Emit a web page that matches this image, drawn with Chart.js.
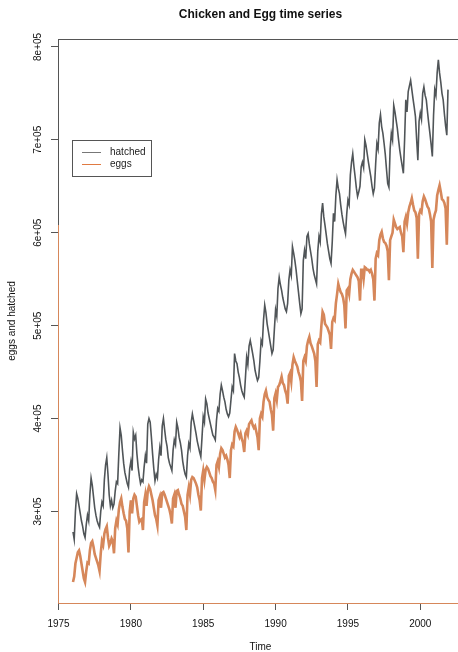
<!DOCTYPE html>
<html lang="en">
<head>
<meta charset="UTF-8">
<title>Chicken and Egg time series</title>
<script src="https://cdn.jsdelivr.net/npm/chart.js"></script>
<style>
  html, body { margin: 0; padding: 0; background: #fff; overflow: hidden; }
  #wrap { width: 458px; height: 652px; overflow: hidden; }
  canvas { display: block; }
</style>
</head>
<body>
<div id="wrap"><canvas id="chart" width="470" height="652"></canvas></div>
<script>
// monthly series, Jan 1976 .. Dec 2001 (values in thousands)
const startYear = 1976;
const hatched = [
  278, 270, 300, 319, 314, 306, 298, 290, 284, 276, 272, 286, // 1976
  296, 290, 318, 336, 328, 316, 304, 296, 290, 286, 283, 300, // 1977
  310, 306, 334, 350, 358, 340, 318, 306, 312, 304, 308, 322, // 1978
  332, 330, 362, 390, 382, 366, 352, 342, 336, 330, 326, 346, // 1979
  354, 344, 385, 378, 382, 362, 348, 338, 330, 334, 332, 348, // 1980
  360, 352, 394, 400, 396, 380, 362, 346, 333, 340, 336, 356, // 1981
  369, 360, 392, 400, 388, 377, 370, 358, 352, 348, 344, 366, // 1982
  377, 372, 396, 390, 380, 374, 366, 354, 346, 340, 337, 360, // 1983
  373, 368, 396, 405, 398, 391, 384, 376, 370, 364, 359, 380, // 1984
  402, 396, 421, 416, 406, 400, 394, 388, 382, 380, 377, 398, // 1985
  411, 408, 426, 436, 430, 423, 418, 410, 405, 402, 406, 420, // 1986
  434, 430, 470, 462, 459, 450, 444, 436, 430, 426, 423, 444, // 1987
  466, 458, 478, 484, 477, 470, 462, 452, 446, 441, 444, 462, // 1988
  484, 480, 506, 522, 514, 502, 494, 486, 478, 470, 474, 496, // 1989
  517, 510, 540, 552, 544, 538, 530, 524, 518, 515, 524, 549, // 1990
  560, 554, 585, 578, 570, 560, 548, 536, 524, 513, 518, 570, // 1991
  581, 572, 596, 599, 588, 580, 572, 562, 555, 550, 545, 580, // 1992
  596, 590, 620, 632, 617, 608, 598, 588, 580, 572, 567, 590, // 1993
  621, 612, 640, 657, 648, 642, 630, 620, 612, 605, 599, 620, // 1994
  635, 630, 662, 676, 685, 671, 660, 648, 639, 644, 650, 671, // 1995
  676, 670, 700, 694, 685, 676, 668, 660, 650, 642, 648, 674, // 1996
  696, 690, 718, 727, 714, 707, 696, 684, 668, 653, 649, 690, // 1997
  707, 700, 737, 730, 721, 712, 700, 689, 680, 672, 664, 700, // 1998
  743, 730, 752, 758, 764, 754, 744, 735, 725, 700, 678, 720, // 1999
  729, 722, 750, 757, 748, 743, 730, 718, 707, 695, 682, 726, // 2000
  754, 748, 772, 786, 772, 762, 750, 743, 728, 715, 705, 754  // 2001
];
const eggs = [
  224, 230, 244, 250, 256, 258, 252, 244, 236, 228, 224, 236, // 1976
  245, 244, 258, 266, 268, 262, 254, 250, 246, 242, 236, 255, // 1977
  268, 264, 276, 281, 284, 272, 263, 266, 271, 268, 255, 282, // 1978
  290, 286, 302, 310, 314, 305, 298, 292, 290, 282, 256, 300, // 1979
  312, 298, 314, 318, 316, 306, 296, 289, 291, 292, 280, 310, // 1980
  318, 306, 322, 327, 324, 318, 312, 304, 296, 292, 285, 312, // 1981
  316, 304, 320, 321, 318, 314, 310, 306, 302, 296, 287, 314, // 1982
  318, 304, 322, 323, 318, 314, 308, 306, 300, 294, 280, 318, // 1983
  326, 318, 334, 337, 336, 333, 330, 326, 318, 312, 301, 336, // 1984
  344, 334, 345, 348, 346, 342, 338, 336, 332, 330, 323, 350, // 1985
  354, 348, 362, 368, 366, 362, 358, 360, 356, 350, 336, 366, // 1986
  372, 370, 386, 391, 388, 384, 380, 384, 378, 374, 364, 384, // 1987
  387, 383, 394, 396, 398, 393, 390, 392, 386, 380, 366, 400, // 1988
  405, 402, 418, 426, 430, 423, 420, 418, 410, 404, 387, 422, // 1989
  427, 420, 434, 436, 440, 445, 438, 436, 430, 426, 416, 446, // 1990
  449, 440, 458, 466, 462, 459, 456, 450, 446, 440, 419, 462, // 1991
  466, 462, 478, 484, 488, 481, 478, 474, 470, 462, 434, 480, // 1992
  484, 482, 500, 515, 512, 502, 500, 498, 494, 490, 475, 504, // 1993
  508, 506, 524, 534, 545, 540, 536, 534, 530, 522, 497, 538, // 1994
  540, 534, 550, 556, 560, 558, 556, 554, 552, 548, 527, 560, // 1995
  560, 550, 563, 562, 560, 560, 558, 560, 556, 550, 527, 572, // 1996
  578, 576, 592, 598, 601, 594, 590, 589, 586, 580, 549, 592, // 1997
  596, 600, 614, 610, 606, 604, 605, 606, 600, 596, 579, 612, // 1998
  617, 610, 622, 628, 632, 637, 630, 624, 622, 616, 572, 620, // 1999
  624, 622, 634, 639, 636, 632, 628, 626, 620, 612, 562, 614, // 2000
  620, 624, 640, 646, 651, 644, 636, 635, 632, 626, 587, 639  // 2001
];
const xTicks = [1975, 1980, 1985, 1990, 1995, 2000];
const yTicks = [300, 400, 500, 600, 700, 800];
const yTickLabels = ['3e+05', '4e+05', '5e+05', '6e+05', '7e+05', '8e+05'];

const toPoints = arr => arr.map((v, i) => ({ x: startYear + i / 12, y: v }));
const FONT = "'Liberation Sans', Arial, Helvetica, sans-serif";
const AXIS = '#555';
const ORANGE = '#d6875a';

// title, y labels, legend and the box round the plot
const decor = {
  id: 'decor',
  afterDraw(chart) {
    const { ctx, chartArea: a, scales: { y } } = chart;
    ctx.save();
    ctx.fillStyle = '#111';
    ctx.textAlign = 'center';
    ctx.textBaseline = 'middle';
    ctx.font = 'bold 12px ' + FONT;
    ctx.fillText('Chicken and Egg time series', (a.left + a.right) / 2, 15);
    ctx.font = '10px ' + FONT;
    ctx.fillText('Time', (a.left + a.right) / 2, 647);

    // rotated y tick labels and axis title
    yTicks.forEach((v, i) => {
      ctx.save();
      ctx.translate(38.5, y.getPixelForValue(v));
      ctx.rotate(-Math.PI / 2);
      ctx.fillText(yTickLabels[i], 0, 0);
      ctx.restore();
    });
    ctx.save();
    ctx.translate(12, (a.top + a.bottom) / 2);
    ctx.rotate(-Math.PI / 2);
    ctx.fillText('eggs and hatched', 0, 0);
    ctx.restore();

    // frame
    ctx.lineWidth = 1;
    ctx.strokeStyle = AXIS;
    ctx.strokeRect(a.left + 0.5, a.top + 0.5, a.right - a.left, a.bottom - a.top);
    ctx.strokeStyle = ORANGE;
    ctx.beginPath();
    ctx.moveTo(a.left + 0.5, 225);
    ctx.lineTo(a.left + 0.5, a.bottom + 0.5);
    ctx.lineTo(a.right, a.bottom + 0.5);
    ctx.stroke();

    // legend
    ctx.strokeStyle = AXIS;
    ctx.strokeRect(72.5, 140.5, 79, 36);
    ctx.strokeStyle = '#777';
    ctx.beginPath(); ctx.moveTo(82, 152.5); ctx.lineTo(101, 152.5); ctx.stroke();
    ctx.strokeStyle = '#e07a42';
    ctx.beginPath(); ctx.moveTo(82, 164.5); ctx.lineTo(101, 164.5); ctx.stroke();
    ctx.textAlign = 'left';
    ctx.fillStyle = '#222';
    ctx.fillText('hatched', 110, 152);
    ctx.fillText('eggs', 110, 164);
    ctx.restore();
  }
};

new Chart(document.getElementById('chart'), {
  type: 'line',
  data: {
    datasets: [
      { label: 'hatched', data: toPoints(hatched), borderColor: '#505558', borderWidth: 1.6 },
      { label: 'eggs', data: toPoints(eggs), borderColor: ORANGE, borderWidth: 2.6 },
      { label: 'eggs core', data: toPoints(eggs), borderColor: 'rgba(120,130,140,0.3)', borderWidth: 0.7 }
    ]
  },
  options: {
    responsive: false,
    animation: false,
    devicePixelRatio: 1,
    layout: { padding: { top: 39, right: 7, left: 0, bottom: 0 } },
    elements: { point: { radius: 0 }, line: { tension: 0 } },
    plugins: { legend: { display: false }, title: { display: false }, tooltip: { enabled: false } },
    scales: {
      x: {
        type: 'linear',
        min: 1974.963,
        max: 2002.953,
        afterBuildTicks: s => { s.ticks = xTicks.map(v => ({ value: v })); },
        afterFit: s => { s.height = 49; },
        grid: { drawOnChartArea: false, tickLength: 7, color: AXIS },
        border: { display: false },
        ticks: { color: '#111', font: { family: FONT, size: 10 }, padding: 8, maxRotation: 0, callback: v => v }
      },
      y: {
        min: 201.5,
        max: 808.5,
        afterBuildTicks: s => { s.ticks = yTicks.map(v => ({ value: v })); },
        afterFit: s => { s.width = 58; },
        grid: { drawOnChartArea: false, tickLength: 7, color: AXIS },
        border: { display: false },
        ticks: { display: false }
      }
    }
  },
  plugins: [decor]
});
</script>
</body>
</html>
